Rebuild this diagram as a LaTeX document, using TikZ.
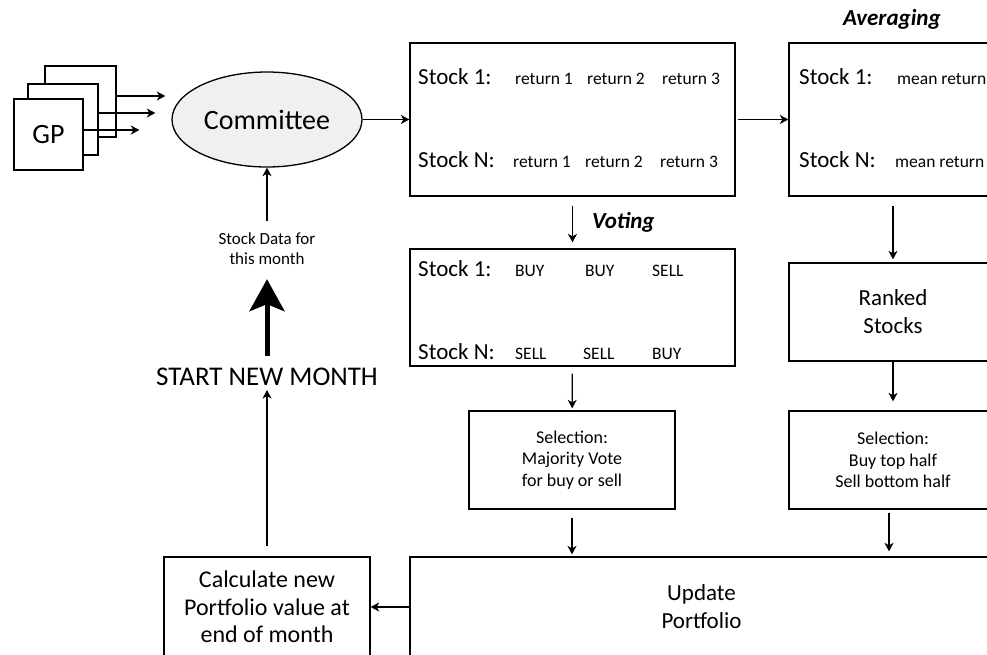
\documentclass[tikz,border=0pt]{standalone}
\usepackage{fontspec}
\setmainfont{Carlito}
\usetikzlibrary{arrows.meta,shapes.geometric,positioning}

\begin{document}
\begin{tikzpicture}[x=1pt,y=-1pt,
        box/.style={draw,line width=1.3pt,fill=white,inner sep=0pt,align=center},
        arr/.style={line width=1.3pt,-{Stealth[length=8.5pt,width=9pt,inset=2.5pt]}},
        big/.style={font=\fontsize{28}{32}\selectfont},
        med/.style={font=\fontsize{23}{28}\selectfont},
        sml/.style={font=\fontsize{17.5}{21}\selectfont},
        sel/.style={font=\fontsize{18}{21.5}\selectfont},
        head/.style={font=\fontsize{23}{26}\selectfont\bfseries\itshape},
        txt/.style={inner sep=0pt,anchor=base west}]
    \useasboundingbox (0,0) rectangle (987,654);
    \fill[white] (0,0) rectangle (987,654);
    \clip (0,0) rectangle (987,654);

    % stacked GP models
    \node[box,minimum width=71,minimum height=71] (gpc) at (80.5,101.5) {};
    \node[box,minimum width=70,minimum height=71] (gpb) at (63,119.5) {};
    \node[box,big,minimum width=69,minimum height=71] (gpa) at (48.5,134.5) {GP};
    \node[draw,line width=1.3pt,fill=gray!12,ellipse,inner sep=0pt,big,
          minimum width=190,minimum height=95] (comm) at (267,119.5) {Committee};
    \draw[arr,shorten >=6pt]  ([yshift=5.5pt]gpc.east) -- ([yshift=5.5pt]gpc.east -| comm.west);
    \draw[arr,shorten >=16pt] ([yshift=6.5pt]gpb.east) -- ([yshift=6.5pt]gpb.east -| comm.west);
    \draw[arr,shorten >=32pt] ([yshift=4.5pt]gpa.east) -- ([yshift=4.5pt]gpa.east -| comm.west);

    % returns of each member
    \node[box,minimum width=325,minimum height=153] (ret) at (572.5,119.5) {};
    \node[txt,med] (ret1) at (418,84) {Stock 1:};
    \node[txt,med] (retn) at (418,167) {Stock N:};
    \foreach \i/\x in {1/515,2/587,3/662}
        \node[txt,sml] (ra\i) at (\x,84) {return \i};
    \foreach \i/\x in {1/513,2/585,3/660}
        \node[txt,sml] (rb\i) at (\x,167) {return \i};
    \draw[arr] (comm) -- (ret);

    % averaging branch
    \node[box,minimum width=320,minimum height=153] (avg) at (949,119.5) {};
    \node[txt,head] (avlab) at (843,25) {Averaging};
    \node[txt,med] (avg1) at (799,84) {Stock 1:};
    \node[txt,med] (avgn) at (799,167) {Stock N:};
    \node[txt,sml] (mr1) at (897,84) {mean return};
    \node[txt,sml] (mrn) at (895,167) {mean return};
    \draw[arr,shorten <=2pt] (ret) -- (avg);

    \node[box,med,minimum width=208,minimum height=98] (rank) at (893,312) {Ranked\\Stocks};
    \node[box,sel,minimum width=208,minimum height=98] (selr) at (893,460) {Selection:\\Buy top half\\Sell bottom half};
    \draw[arr,shorten <=9pt,shorten >=3pt] (rank.north |- avg.south) -- (rank.north);
    \draw[arr,shorten >=9pt] (rank) -- (selr);

    % voting branch
    \node[box,minimum width=325,minimum height=117] (vote) at (572.5,307.5) {};
    \node[txt,head] (vlab) at (592,228) {Voting};
    \node[txt,med] (vot1) at (418,276) {Stock 1:};
    \node[txt,med] (votn) at (418,359) {Stock N:};
    \node[txt,sml] (va1) at (515,276) {BUY};
    \node[txt,sml] (va2) at (585,276) {BUY};
    \node[txt,sml] (va3) at (652,276) {SELL};
    \node[txt,sml] (vb1) at (515,359) {SELL};
    \node[txt,sml] (vb2) at (583,359) {SELL};
    \node[txt,sml] (vb3) at (652,359) {BUY};
    \draw[arr,shorten <=9pt,shorten >=6pt] (ret) -- (vote);

    \node[box,sel,minimum width=206,minimum height=98] (sell) at (572,460) {Selection:\\Majority Vote\\for buy or sell};
    \draw[arr,shorten <=7pt,shorten >=2pt] (vote) -- (sell);

    % portfolio update and new month
    \node[box,med,minimum width=583,minimum height=100] (upd) at (701.5,607) {Update\\Portfolio};
    \node[box,font=\fontsize{24}{27.5}\selectfont,minimum width=206,minimum height=100] (calc) at (267,607) {Calculate new\\Portfolio value at\\end of month};
    \draw[arr,shorten <=8pt,shorten >=2pt] (sell) -- (sell |- upd.north);
    \draw[arr,shorten <=3pt,shorten >=5pt] ([xshift=-4pt]selr.south) -- ([xshift=-4pt]selr.south |- upd.north);
    \draw[arr] (upd) -- (calc);

    \node[inner sep=0pt,font=\fontsize{27}{32}\selectfont] (strt) at (267,377) {START NEW MONTH};
    \node[inner sep=0pt,align=center,font=\fontsize{17}{20}\selectfont] (sdata) at (267,249) {Stock Data for\\this month};
    \draw[arr,shorten <=10pt,shorten >=4pt] (calc) -- (strt);
    \draw[line width=5pt,-{Stealth[length=32pt,width=35pt,inset=7pt]},shorten <=12pt,shorten >=14pt] (strt) -- (sdata);
    \draw[arr,shorten <=12pt] (sdata) -- (comm);
\end{tikzpicture}
\end{document}
